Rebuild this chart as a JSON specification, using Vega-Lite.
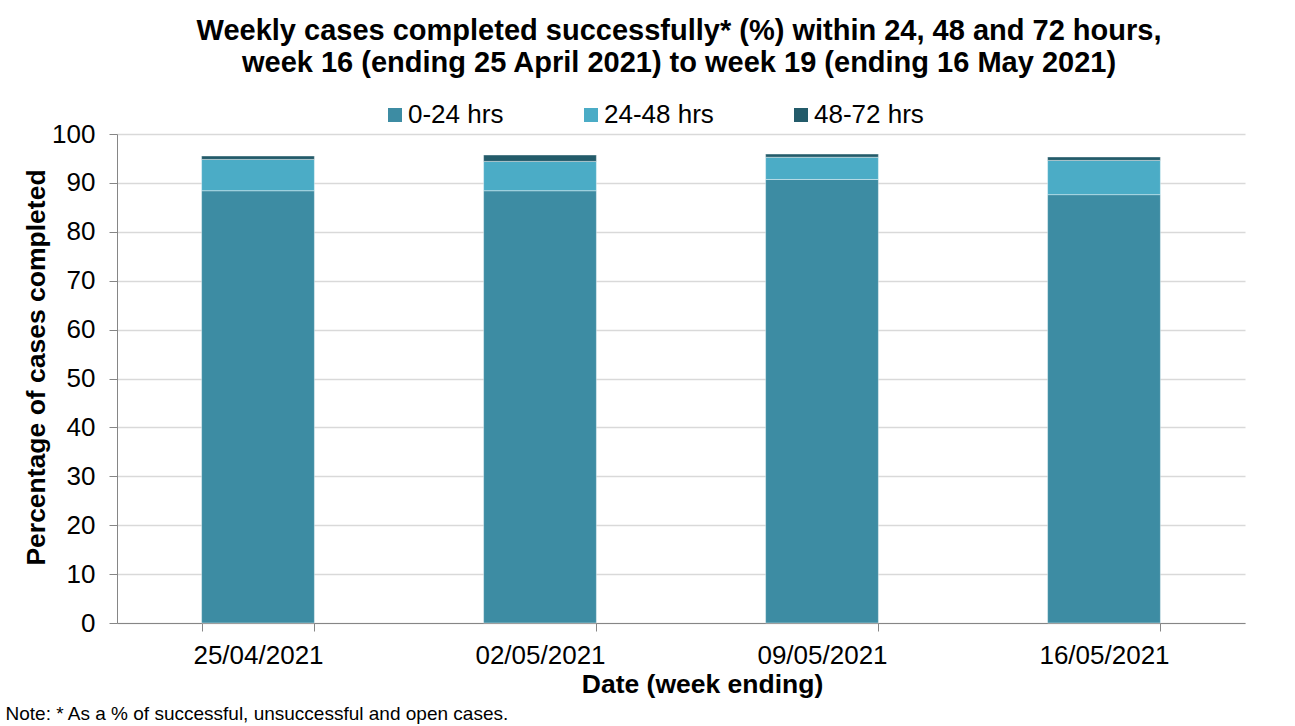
{
  "$schema": "https://vega.github.io/schema/vega-lite/v6.json",
  "autosize": "none",
  "width": 1128,
  "height": 489,
  "padding": {"left": 117, "top": 134, "right": 50, "bottom": 103},
  "background": "#ffffff",
  "config": {
    "font": "Liberation Sans",
    "view": {"stroke": null}
  },
  "title": {
    "text": ["Weekly cases completed successfully* (%) within 24, 48 and 72 hours,", "week 16 (ending 25 April 2021) to week 19 (ending 16 May 2021)"],
    "fontSize": 29,
    "fontWeight": "bold",
    "lineHeight": 32,
    "color": "#000000",
    "anchor": "middle",
    "frame": "group",
    "offset": 24,
    "dx": -2
  },
  "data": {
    "values": [
      {"date": "25/04/2021", "band": "0-24 hrs", "pct": 88.4},
      {"date": "25/04/2021", "band": "24-48 hrs", "pct": 6.4},
      {"date": "25/04/2021", "band": "48-72 hrs", "pct": 0.7},
      {"date": "02/05/2021", "band": "0-24 hrs", "pct": 88.4},
      {"date": "02/05/2021", "band": "24-48 hrs", "pct": 6.0},
      {"date": "02/05/2021", "band": "48-72 hrs", "pct": 1.3},
      {"date": "09/05/2021", "band": "0-24 hrs", "pct": 90.7},
      {"date": "09/05/2021", "band": "24-48 hrs", "pct": 4.55},
      {"date": "09/05/2021", "band": "48-72 hrs", "pct": 0.65},
      {"date": "16/05/2021", "band": "0-24 hrs", "pct": 87.6},
      {"date": "16/05/2021", "band": "24-48 hrs", "pct": 7.0},
      {"date": "16/05/2021", "band": "48-72 hrs", "pct": 0.7}
    ]
  },
  "layer": [
    {
      "mark": {"type": "bar", "stroke": "#ffffff", "strokeWidth": 0.8, "strokeOpacity": 0.5},
      "encoding": {
        "x": {
          "field": "date",
          "type": "nominal",
          "sort": ["25/04/2021", "02/05/2021", "09/05/2021", "16/05/2021"],
          "scale": {"paddingInner": 0.6, "paddingOuter": 0.3},
          "axis": {
            "title": "Date (week ending)",
            "titleFontSize": 26.5,
            "titleFontWeight": "bold",
            "titleColor": "#000000",
            "titlePadding": 3,
            "titleX": 585,
            "titleAlign": "center",
            "labelFontSize": 26,
            "labelColor": "#000000",
            "labelAngle": 0,
            "labelPadding": 11,
            "tickBand": "extent",
            "tickSize": 8,
            "tickColor": "#868686",
            "domainColor": "#868686",
            "grid": false
          }
        },
        "y": {
          "field": "pct",
          "type": "quantitative",
          "stack": "zero",
          "scale": {"domain": [0, 100]},
          "axis": {
            "title": "Percentage of cases completed",
            "titleFontSize": 26.5,
            "titleFontWeight": "bold",
            "titleColor": "#000000",
            "titlePadding": 1,
            "titleY": 233,
            "values": [0, 10, 20, 30, 40, 50, 60, 70, 80, 90, 100],
            "labelFontSize": 26,
            "labelColor": "#000000",
            "labelPadding": 14,
            "tickSize": 8,
            "tickColor": "#868686",
            "domainColor": "#868686",
            "gridColor": "#d9d9d9",
            "gridWidth": 1.5
          }
        },
        "color": {
          "field": "band",
          "type": "nominal",
          "scale": {"domain": ["0-24 hrs", "24-48 hrs", "48-72 hrs"], "range": ["#3D8CA3", "#4BACC6", "#235B6A"]},
          "legend": {
            "title": null,
            "orient": "none",
            "direction": "horizontal",
            "legendX": 265,
            "legendY": -32,
            "symbolType": "square",
            "symbolSize": 196,
            "symbolStrokeWidth": 0,
            "labelFontSize": 26,
            "labelColor": "#000000",
            "labelOffset": 0,
            "columnPadding": 74
          }
        },
        "order": {"field": "band", "sort": "ascending"}
      }
    },
    {
      "mark": {"type": "rule", "opacity": 0},
      "encoding": {
        "x": {
          "field": "date",
          "type": "nominal",
          "sort": ["25/04/2021", "02/05/2021", "09/05/2021", "16/05/2021"],
          "axis": {
            "orient": "bottom",
            "title": "Note: * As a % of successful, unsuccessful and open cases.",
            "titleFontSize": 19,
            "titleFontWeight": "normal",
            "titleColor": "#000000",
            "titleAlign": "left",
            "titleAnchor": "start",
            "titleBaseline": "alphabetic",
            "titleX": -112,
            "titleY": 96,
            "labels": false,
            "ticks": false,
            "domain": false,
            "grid": false
          }
        }
      }
    }
  ],
  "resolve": {"axis": {"x": "independent"}}
}
